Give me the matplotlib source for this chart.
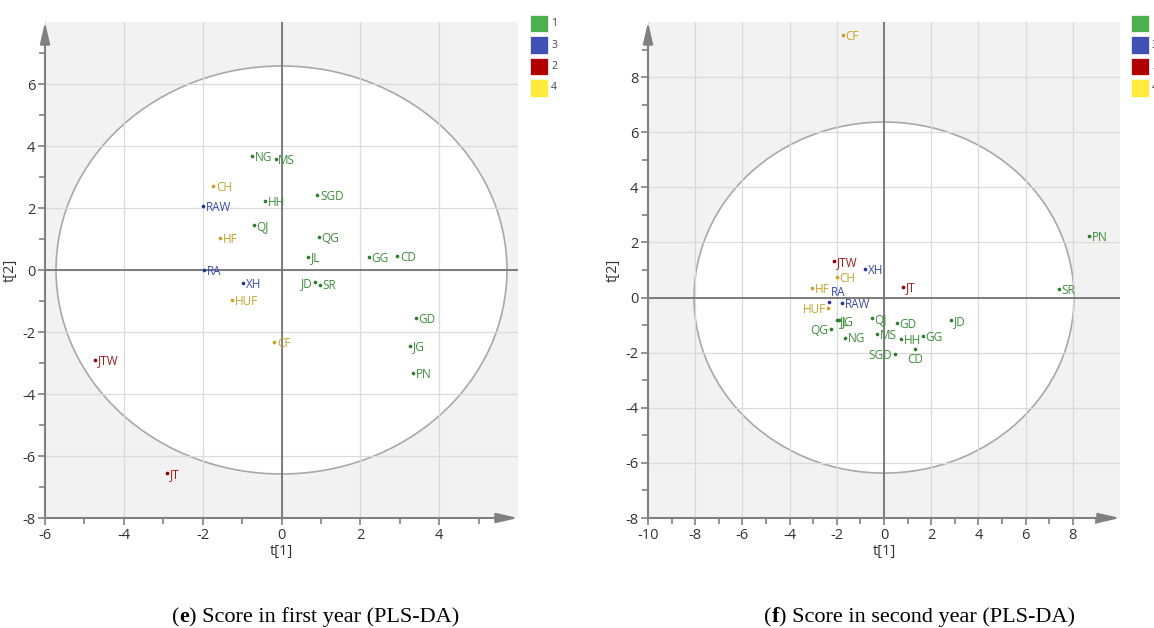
import matplotlib
matplotlib.use("Agg")
import matplotlib.pyplot as plt
from matplotlib.patches import Ellipse, Rectangle
from matplotlib.text import Annotation
from matplotlib.ticker import FixedLocator

plt.rcParams["axes.unicode_minus"] = False

# score plot data, first year (e)
names_e = ["NG", "MS", "CH", "SGD", "HH", "RAW", "QJ", "HF", "QG", "JL", "GG", "CD",
           "RA", "XH", "JD", "SR", "HUF", "CF", "GD", "JG", "PN", "JTW", "JT"]
x_e = [-0.74, -0.15, -1.73, 0.91, -0.41, -2.00, -0.71, -1.57, 0.94, 0.67, 2.21, 2.93,
       -1.97, -0.98, 0.85, 0.97, -1.25, -0.19, 3.40, 3.26, 3.33, -4.72, -2.91]
y_e = [3.68, 3.58, 2.72, 2.41, 2.22, 2.06, 1.45, 1.03, 1.06, 0.43, 0.43, 0.46,
       0.01, -0.42, -0.38, -0.47, -0.96, -2.32, -1.56, -2.44, -3.33, -2.89, -6.56]
cls_e = ["1", "1", "4", "1", "1", "3", "1", "4", "1", "1", "1", "1",
         "3", "3", "1", "1", "4", "4", "1", "1", "1", "2", "2"]

# score plot data, second year (f)
names_f = ["CF", "PN", "SR", "JTW", "XH", "CH", "HF", "JT", "RA", "RAW", "HUF", "JL",
           "JG", "QJ", "GD", "JD", "QG", "NG", "MS", "HH", "GG", "SGD", "CD"]
x_f = [-1.75, 8.70, 7.40, -2.11, -0.80, -2.01, -3.03, 0.80, -2.31, -1.77, -2.36, -2.00,
       -1.89, -0.52, 0.54, 2.86, -2.26, -1.64, -0.31, 0.71, 1.65, 0.46, 1.31]
y_f = [9.53, 2.23, 0.30, 1.33, 1.03, 0.74, 0.36, 0.40, -0.16, -0.20, -0.38, -0.82,
       -0.82, -0.76, -0.92, -0.83, -1.15, -1.45, -1.32, -1.52, -1.40, -2.04, -1.86]
cls_f = ["4", "1", "1", "2", "3", "4", "4", "2", "3", "3", "4", "1",
         "1", "1", "1", "1", "1", "1", "1", "1", "1", "1", "1"]

# Hotelling T2 ellipse half-axes
ell_e = (5.72, 6.58)
ell_f = (8.05, 6.37)

legend_order = ["1", "3", "2", "4"]
sq_col = {"1": "#4caf50", "3": "#3f51b5", "2": "#b00000", "4": "#ffeb3b"}
txt_col = {"1": "#3d8b3d", "3": "#3949ab", "2": "#a01818", "4": "#c4a42a"}
dot_col = {"1": "#2e7d32", "3": "#283593", "2": "#8b0000", "4": "#c9a227"}

# labels that are not put to the right of their point
place_e = {"JD": "left"}
place_f = {"RA": "above", "HUF": "left", "QG": "left", "SGD": "left", "CD": "below"}

W, H = 1154, 628
fig = plt.figure(figsize=(W / 100, H / 100), dpi=100)
LBL = "Open Sans"


def draw_panel(rect, names, xs, ys, cls, ell, xlim, ylim, xmaj, ymaj, place):
    ax = fig.add_axes([rect[0] / W, 1 - rect[3] / H, (rect[2] - rect[0]) / W,
                       (rect[3] - rect[1]) / H])
    ax.set_facecolor("#f2f2f2")
    ax.set_xlim(*xlim)
    ax.set_ylim(*ylim)
    for s in ax.spines.values():
        s.set_visible(False)
    ax.add_patch(Ellipse((0, 0), 2 * ell[0], 2 * ell[1], facecolor="white",
                         edgecolor="#a8a8a8", lw=1.2, zorder=0.2))
    ax.xaxis.set_major_locator(FixedLocator(xmaj))
    ax.yaxis.set_major_locator(FixedLocator(ymaj))
    ax.xaxis.set_minor_locator(FixedLocator(range(xlim[0], xlim[1])))
    ax.yaxis.set_minor_locator(FixedLocator(range(ylim[0], ylim[1])))
    ax.set_axisbelow(True)
    ax.grid(True, which="major", color="#dadada", lw=0.9, zorder=0.5)
    ax.tick_params(which="both", direction="out", color="#808080", width=1.2,
                   labelsize=10.5, labelcolor="#333333")
    ax.tick_params(which="major", length=5, pad=2)
    ax.tick_params(which="minor", length=4)
    for lab in ax.get_xticklabels() + ax.get_yticklabels():
        lab.set_fontfamily(LBL)
    ax.axhline(0, color="#6a6a6a", lw=1.2, zorder=1)
    ax.axvline(0, color="#6a6a6a", lw=1.2, zorder=1)
    arr = dict(arrowstyle="-|>,head_length=1.3,head_width=0.3", color="#808080",
               lw=1.5, shrinkA=0, shrinkB=0)
    ax.annotate("", xy=(0, 1), xytext=(0, 0), xycoords="axes fraction",
                arrowprops=arr, annotation_clip=False)
    ax.annotate("", xy=(1, 0), xytext=(0, 0), xycoords="axes fraction",
                arrowprops=arr, annotation_clip=False)
    ax.set_xlabel("t[1]", fontfamily=LBL, fontsize=10.5, color="#333333", labelpad=1)
    ax.set_ylabel("t[2]", fontfamily=LBL, fontsize=10.5, color="#333333", labelpad=3)

    for n, x, y, c in zip(names, xs, ys, cls):
        ax.scatter(x, y, s=7, color=dot_col[c], zorder=3, linewidths=0)
        p = place.get(n, "right")
        if p == "right":
            off, ha, va = (2, -1), "left", "center"
        elif p == "left":
            off, ha, va = (-2, -1), "right", "center"
        elif p == "above":
            off, ha, va = (1, 6.5), "left", "center"
        else:
            off, ha, va = (0, -7.5), "center", "center"
        ax.annotate(n, (x, y), xytext=off, textcoords="offset points", ha=ha, va=va,
                    fontsize=8.5, color=txt_col[c], fontfamily=LBL, zorder=4)
    return ax


draw_panel((45, 22, 518, 518), names_e, x_e, y_e, cls_e, ell_e, (-6, 6), (-8, 8),
           range(-6, 5, 2), range(-8, 7, 2), place_e)
draw_panel((648, 22, 1120, 518), names_f, x_f, y_f, cls_f, ell_f, (-10, 10), (-8, 10),
           range(-10, 9, 2), range(-8, 9, 2), place_f)

# class legends (squares at the top right of each panel)
for lx in (530, 1131):
    for i, c in enumerate(legend_order):
        top = 14.5 + i * 21.5
        fig.add_artist(Rectangle((lx / W, 1 - (top + 17.5) / H), 17.5 / W, 17.5 / H,
                                 transform=fig.transFigure, facecolor=sq_col[c],
                                 edgecolor="white", lw=0.5))
        fig.text((lx + 21) / W, 1 - (top + 9) / H, c, fontsize=7.5, color="#444444",
                 va="center", ha="left", fontfamily=LBL)


def caption(x_px, letter, rest):
    kw = dict(fontfamily="Liberation Serif", fontsize=16, color="black")
    t = fig.text(x_px / W, 1 - 627 / H, "(", va="bottom", ha="left", **kw)
    prev = t
    for s, wgt in ((letter, "bold"), (rest, "normal")):
        a = Annotation(s, xy=(1, 0), xycoords=prev, va="bottom", ha="left",
                       fontweight=wgt, **kw)
        fig.add_artist(a)
        prev = a


caption(172, "e", ") Score in first year (PLS-DA)")
caption(764, "f", ") Score in second year (PLS-DA)")

fig.savefig("out.png", dpi=100)
